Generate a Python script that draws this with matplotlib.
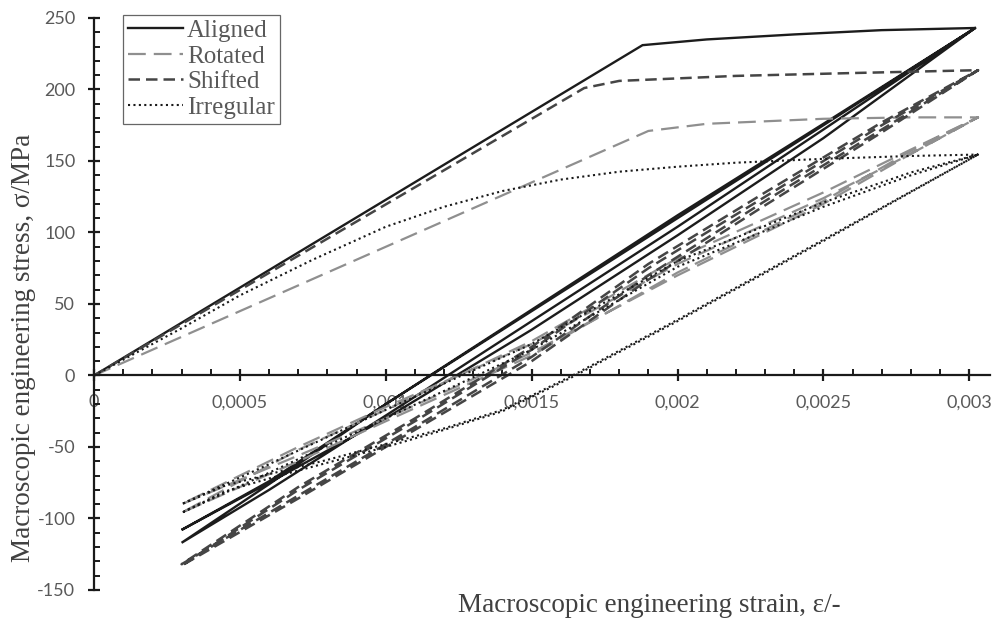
import numpy as np
import matplotlib
matplotlib.use('Agg')
import matplotlib.pyplot as plt
from matplotlib.ticker import MultipleLocator, FuncFormatter

# Aligned: monotonic load, then two strain cycles (unload / reload)
al_load_x = [0, 0.00188, 0.0021, 0.0024, 0.0027, 0.00302]
al_load_y = [0, 231, 235, 238.5, 241.5, 243]
al_down_x = [0.00302, 0.0025, 0.002, 0.0015, 0.001, 0.0006, 0.0003]
al_down1_y = [243, 172, 104, 38, -28, -80, -117]
al_down2_y = [243, 166, 98, 32, -30, -75, -108]
al_up_x = [0.0003, 0.0006, 0.001, 0.0015, 0.002, 0.0025, 0.00302]
al_up1_y = [-117, -76, -20, 46, 112, 176, 243]
al_up2_y = [-108, -74, -20, 45, 110, 175, 243]

# Rotated
ro_load_x = [0, 0.0019, 0.0021, 0.0025, 0.0028, 0.00303]
ro_load_y = [0, 171, 176, 179.5, 180.5, 180.5]
ro_down_x = [0.00303, 0.0028, 0.0025, 0.002, 0.0015, 0.001, 0.0007, 0.0003]
ro_down1_y = [180.5, 157, 122, 72, 14, -32, -60, -96]
ro_down2_y = [180.5, 155, 120, 70, 16, -30, -56, -90]
ro_up_x = [0.0003, 0.0007, 0.001, 0.0015, 0.002, 0.0025, 0.0028, 0.00303]
ro_up1_y = [-96, -52, -24, 24, 82, 128, 158, 180.5]
ro_up2_y = [-90, -50, -22, 22, 78, 124, 155, 180.5]

# Shifted
sh_load_x = [0, 0.00168, 0.0018, 0.0022, 0.0026, 0.00303]
sh_load_y = [0, 201, 206, 209.5, 211.5, 213.5]
sh_down_x = [0.00303, 0.0027, 0.0023, 0.0019, 0.0015, 0.0011, 0.0007, 0.0003]
sh_down1_y = [213.5, 172, 122, 70, 13, -36, -84, -132]
sh_down2_y = [213.5, 170, 119, 67, 10, -38, -86, -133]
sh_up_x = [0.0003, 0.0007, 0.0011, 0.0015, 0.0019, 0.0023, 0.0027, 0.00303]
sh_up1_y = [-132, -78, -30, 20, 78, 128, 177, 213.5]
sh_up2_y = [-133, -80, -32, 18, 75, 125, 175, 213.5]

# Irregular
ir_load_x = [0, 0.0003, 0.0005, 0.00075, 0.001, 0.0012, 0.0014, 0.0016, 0.0018, 0.002,
             0.0022, 0.0025, 0.0028, 0.00303]
ir_load_y = [0, 33, 56, 81, 104, 118, 129, 137, 142.5, 146, 148.8, 151.5, 153.5, 154.5]
ir_down_x = [0.00303, 0.0025, 0.002, 0.00164, 0.0014, 0.0012, 0.001, 0.0008, 0.0006, 0.00045, 0.0003]
ir_down1_y = [154.5, 95, 39, 0, -24, -37, -48, -59, -69, -77, -90]
ir_down2_y = [154.5, 94, 38, -1, -25, -38, -50, -61, -72, -81, -96]
ir_up_x = [0.0003, 0.0006, 0.001, 0.0015, 0.002, 0.0025, 0.0028, 0.00303]
ir_up1_y = [-90, -62, -24, 22, 80, 121, 142, 154.5]
ir_up2_y = [-96, -68, -30, 18, 76, 118, 140, 154.5]


def path(load_x, load_y, down_x, down_ys, up_x, up_ys):
    xs, ys = [load_x], [load_y]
    for d, u in zip(down_ys, up_ys):
        xs += [down_x[1:], up_x[1:]]
        ys += [d[1:], u[1:]]
    return np.concatenate(xs), np.concatenate(ys)


series = [
    ('Aligned', path(al_load_x, al_load_y, al_down_x, [al_down1_y, al_down2_y], al_up_x, [al_up1_y, al_up2_y]),
     dict(color='#1c1c1c', lw=1.7, ls='-')),
    ('Rotated', path(ro_load_x, ro_load_y, ro_down_x, [ro_down1_y, ro_down2_y], ro_up_x, [ro_up1_y, ro_up2_y]),
     dict(color='#8f8f8f', lw=1.6, ls=(0, (8, 3.6)))),
    ('Shifted', path(sh_load_x, sh_load_y, sh_down_x, [sh_down1_y, sh_down2_y], sh_up_x, [sh_up1_y, sh_up2_y]),
     dict(color='#454545', lw=1.8, ls=(0, (4.6, 2.4)))),
    ('Irregular', path(ir_load_x, ir_load_y, ir_down_x, [ir_down1_y, ir_down2_y], ir_up_x, [ir_up1_y, ir_up2_y]),
     dict(color='#1a1a1a', lw=1.5, ls=(0, (1, 1.6)))),
]

fig = plt.figure(figsize=(9.93, 6.31), dpi=100)
ax = fig.add_axes([0.0947, 0.065, 0.902, 0.9065])

for name, (x, y), style in series:
    ax.plot(x, y, label=name, solid_joinstyle='miter', **style)

ax.set_xlim(0, 0.00307)
ax.set_ylim(-150, 250)
ax.set_axisbelow(True)

for s in ['top', 'right']:
    ax.spines[s].set_visible(False)
ax.spines['bottom'].set_position(('data', 0))
for s in ['left', 'bottom']:
    ax.spines[s].set_linewidth(1.6)
    ax.spines[s].set_color('#1a1a1a')

ax.xaxis.set_major_locator(MultipleLocator(0.0005))
ax.xaxis.set_minor_locator(MultipleLocator(0.0001))
ax.yaxis.set_major_locator(MultipleLocator(50))
ax.yaxis.set_minor_locator(MultipleLocator(10))
ax.xaxis.set_major_formatter(FuncFormatter(lambda v, p: '{:g}'.format(round(v, 6)).replace('.', ',')))
ax.yaxis.set_major_formatter(FuncFormatter(lambda v, p: '{:g}'.format(v)))

ax.tick_params(which='major', direction='inout', length=9, width=1.6, color='#1a1a1a',
               labelcolor='#595959', pad=9)
ax.tick_params(which='minor', direction='in', length=4.5, width=1.4, color='#1a1a1a')
for lab in ax.get_xticklabels() + ax.get_yticklabels():
    lab.set_fontfamily('Lato')
    lab.set_fontsize(13)

label_font = dict(family='Liberation Serif', size=19.5, color='#404040')
fig.text(0.461, 0.041, 'Macroscopic engineering strain, \u03b5/-', ha='left', va='center', **label_font)
fig.text(0.024, 0.449, 'Macroscopic engineering stress, \u03c3/MPa', ha='center', va='center',
         rotation=90, **label_font)

leg = ax.legend(loc='upper left', bbox_to_anchor=(0.124, 0.977), bbox_transform=fig.transFigure,
                prop={'family': 'Liberation Serif', 'size': 18}, frameon=True, fancybox=False,
                handlelength=2.2, handletextpad=0.15, labelspacing=0.12, borderpad=0.2,
                borderaxespad=0)
leg.get_frame().set_edgecolor('#404040')
leg.get_frame().set_linewidth(0.9)
for t in leg.get_texts():
    t.set_color('#595959')

fig.savefig('out.png', dpi=100)
